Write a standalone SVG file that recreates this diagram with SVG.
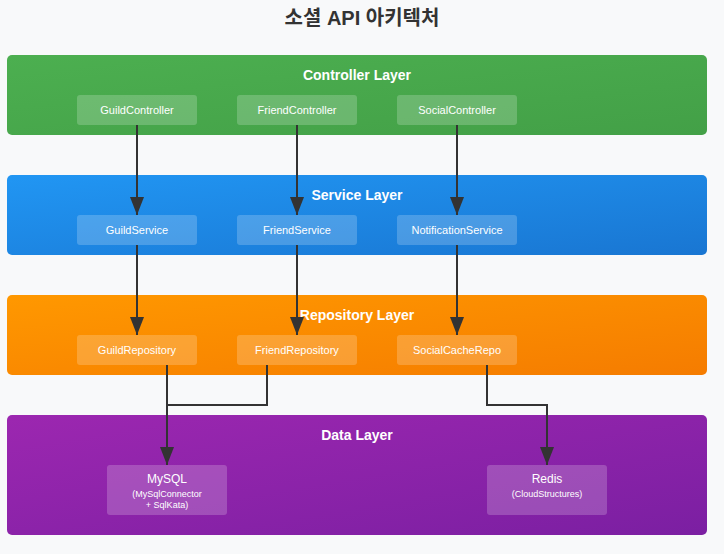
<svg xmlns="http://www.w3.org/2000/svg" width="724" height="554" viewBox="0 0 724 554">
  <defs>
    <linearGradient id="gGreen" x1="0" y1="0" x2="1" y2="1">
      <stop offset="0" stop-color="#4CAF50"/>
      <stop offset="1" stop-color="#43A047"/>
    </linearGradient>
    <linearGradient id="gBlue" x1="0" y1="0" x2="1" y2="1">
      <stop offset="0" stop-color="#2196F3"/>
      <stop offset="1" stop-color="#1976D2"/>
    </linearGradient>
    <linearGradient id="gOrange" x1="0" y1="0" x2="1" y2="1">
      <stop offset="0" stop-color="#FF9800"/>
      <stop offset="1" stop-color="#F57C00"/>
    </linearGradient>
    <linearGradient id="gPurple" x1="0" y1="0" x2="1" y2="1">
      <stop offset="0" stop-color="#9C27B0"/>
      <stop offset="1" stop-color="#7B1FA2"/>
    </linearGradient>
    <marker id="arrow" markerWidth="18" markerHeight="14" refX="18" refY="7" orient="auto" markerUnits="userSpaceOnUse" viewBox="0 0 18 14">
      <path d="M0,0 L18,7 L0,14 Z" fill="#333"/>
    </marker>
  </defs>
  <style>
    .title { font-family: "Liberation Sans", Arial, "Noto Sans CJK KR", sans-serif; font-size: 20px; font-weight: bold; fill: #333; }
    .layer-title { font-family: "Liberation Sans", Arial, sans-serif; font-size: 14px; font-weight: bold; fill: #fff; }
    .box { fill: #fff; fill-opacity: 0.2; }
    .box-text { font-family: "Liberation Sans", Arial, sans-serif; font-size: 11px; fill: #fff; }
    .db-text { font-family: "Liberation Sans", Arial, sans-serif; font-size: 12px; fill: #fff; }
    .db-sub { font-family: "Liberation Sans", Arial, sans-serif; font-size: 9px; fill: #fff; }
    .conn { stroke: #333; stroke-width: 2; fill: none; }
  </style>
  <rect width="724" height="554" fill="#f8f9fa"/>
  <text class="title" x="362" y="25" text-anchor="middle">소셜 API 아키텍처</text>

  <g id="controller-layer">
    <rect x="7" y="55" width="700" height="80" rx="5" fill="url(#gGreen)"/>
    <text class="layer-title" x="357" y="80" text-anchor="middle">Controller Layer</text>
  </g>
  <g id="GuildController">
    <rect class="box" x="77" y="95" width="120" height="30" rx="3"/>
    <text class="box-text" x="137" y="114" text-anchor="middle">GuildController</text>
  </g>
  <g id="FriendController">
    <rect class="box" x="237" y="95" width="120" height="30" rx="3"/>
    <text class="box-text" x="297" y="114" text-anchor="middle">FriendController</text>
  </g>
  <g id="SocialController">
    <rect class="box" x="397" y="95" width="120" height="30" rx="3"/>
    <text class="box-text" x="457" y="114" text-anchor="middle">SocialController</text>
  </g>

  <g id="service-layer">
    <rect x="7" y="175" width="700" height="80" rx="5" fill="url(#gBlue)"/>
    <text class="layer-title" x="357" y="200" text-anchor="middle">Service Layer</text>
  </g>
  <g id="GuildService">
    <rect class="box" x="77" y="215" width="120" height="30" rx="3"/>
    <text class="box-text" x="137" y="234" text-anchor="middle">GuildService</text>
  </g>
  <g id="FriendService">
    <rect class="box" x="237" y="215" width="120" height="30" rx="3"/>
    <text class="box-text" x="297" y="234" text-anchor="middle">FriendService</text>
  </g>
  <g id="NotificationService">
    <rect class="box" x="397" y="215" width="120" height="30" rx="3"/>
    <text class="box-text" x="457" y="234" text-anchor="middle">NotificationService</text>
  </g>

  <g id="repository-layer">
    <rect x="7" y="295" width="700" height="80" rx="5" fill="url(#gOrange)"/>
    <text class="layer-title" x="357" y="320" text-anchor="middle">Repository Layer</text>
  </g>
  <g id="GuildRepository">
    <rect class="box" x="77" y="335" width="120" height="30" rx="3"/>
    <text class="box-text" x="137" y="354" text-anchor="middle">GuildRepository</text>
  </g>
  <g id="FriendRepository">
    <rect class="box" x="237" y="335" width="120" height="30" rx="3"/>
    <text class="box-text" x="297" y="354" text-anchor="middle">FriendRepository</text>
  </g>
  <g id="SocialCacheRepo">
    <rect class="box" x="397" y="335" width="120" height="30" rx="3"/>
    <text class="box-text" x="457" y="354" text-anchor="middle">SocialCacheRepo</text>
  </g>

  <g id="data-layer">
    <rect x="7" y="415" width="700" height="120" rx="5" fill="url(#gPurple)"/>
    <text class="layer-title" x="357" y="440" text-anchor="middle">Data Layer</text>
  </g>
  <g id="MySQL">
    <rect class="box" x="107" y="465" width="120" height="50" rx="3"/>
    <text class="db-text" x="167" y="483" text-anchor="middle">MySQL</text>
    <text class="db-sub" x="167" y="497" text-anchor="middle">(MySqlConnector</text>
    <text class="db-sub" x="167" y="508" text-anchor="middle">+ SqlKata)</text>
  </g>
  <g id="Redis">
    <rect class="box" x="487" y="465" width="120" height="50" rx="3"/>
    <text class="db-text" x="547" y="483" text-anchor="middle">Redis</text>
    <text class="db-sub" x="547" y="497" text-anchor="middle">(CloudStructures)</text>
  </g>

  <g id="connectors">
    <path class="conn" d="M137,125 L137,215" marker-end="url(#arrow)"/>
    <path class="conn" d="M297,125 L297,215" marker-end="url(#arrow)"/>
    <path class="conn" d="M457,125 L457,215" marker-end="url(#arrow)"/>
    <path class="conn" d="M137,245 L137,335" marker-end="url(#arrow)"/>
    <path class="conn" d="M297,245 L297,335" marker-end="url(#arrow)"/>
    <path class="conn" d="M457,245 L457,335" marker-end="url(#arrow)"/>
    <path class="conn" d="M167,365 L167,465" marker-end="url(#arrow)"/>
    <path class="conn" d="M267,365 L267,405 L167,405"/>
    <path class="conn" d="M487,365 L487,405 L547,405 L547,465" marker-end="url(#arrow)"/>
  </g>
</svg>
